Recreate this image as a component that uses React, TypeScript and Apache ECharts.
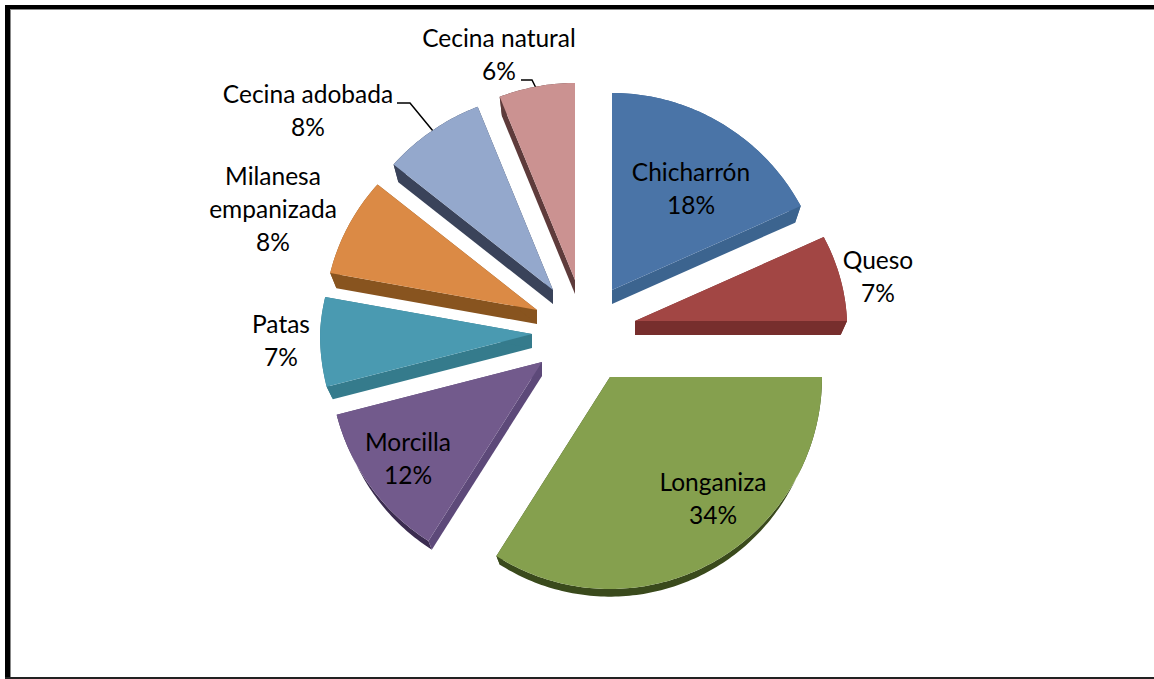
import React, { useEffect, useRef } from "react";
import * as echarts from "echarts";

const categories = ["Chicharrón", "Queso", "Longaniza", "Morcilla", "Patas", "Milanesa\nempanizada", "Cecina adobada", "Cecina natural"];
const values = [18, 7, 34, 12, 7, 8, 8, 6];

const topColors = ["#4A74A7", "#A24644", "#85A04E", "#725A8C", "#4A9AB1", "#DB8A45", "#94A8CC", "#CB9291"];
const cutColors = ["#3C648F", "#772E2D", "#3A4A1C", "#5D4979", "#357B8C", "#88541F", "#3A435A", "#5E3B3B"];
const rimColors = ["#3C648F", "#772E2D", "#3A4A1C", "#3B2C50", "#357B8C", "#88541F", "#3A435A", "#5E3B3B"];

// Layout: explode offset from the pie centre, perspective radii, label centres.
const pieCentre = [585, 335];
const explodeX = [27, 50, 25, -43, -53, -48, -32, -10];
const explodeY = [-45, -14, 42, 27, -1, -25, -45, -55];
const radiusX = 212;
const radiusXBackLoss = 8;
const radiusYBack = 197;
const radiusYFront = 212;
const labelX = [691, 878, 713, 408, 281, 273, 308, 499];
const labelY = [188, 276, 498, 458, 340, 208, 110, 54];
const leaderAdobada = [[397, 103], [410, 103], [433, 131]];
const leaderNatural = [[521, 80], [532, 80], [537, 90]];

const DEPTH = 14;
const SHRINK = 0.97;
const total = values.reduce((a, b) => a + b, 0);

function renderSlice(params: any, api: any) {
  const i = params.dataIndex;
  const before = values.slice(0, i).reduce((a, b) => a + b, 0);
  const start = (before / total) * 360;
  const end = start + (api.value(0) / total) * 360;
  const ax = pieCentre[0] + explodeX[i];
  const ay = pieCentre[1] + explodeY[i];
  const rim: number[][] = [];
  const steps = Math.ceil(end - start);
  for (let s = 0; s <= steps; s++) {
    const t = ((start + ((end - start) * s) / steps) * Math.PI) / 180;
    const c = Math.cos(t);
    const rx = radiusX - radiusXBackLoss * Math.max(0, c);
    rim.push([ax + rx * Math.sin(t), ay - (c > 0 ? radiusYBack : radiusYFront) * c]);
  }
  const low = (p: number[]) => [ax + (p[0] - ax) * SHRINK, ay + (p[1] - ay) * SHRINK + DEPTH];
  const lowRim = rim.map(low);
  const apex = [ax, ay];
  const lowApex = [ax, ay + DEPTH];
  const first = rim[0];
  const last = rim[rim.length - 1];
  const poly = (points: number[][], fill: string) => ({ type: "polygon", shape: { points }, style: { fill } });
  const children: any[] = [
    poly([...rim, ...lowRim.slice().reverse()], rimColors[i]),
    poly([apex, first, low(first), lowApex], cutColors[i]),
    poly([apex, last, low(last), lowApex], cutColors[i]),
    poly([apex, ...rim], topColors[i]),
    {
      type: "text",
      style: {
        text: `${categories[i]}\n${Math.round((values[i] / total) * 100)}%`,
        x: labelX[i],
        y: labelY[i],
        align: "center",
        verticalAlign: "middle",
        fill: "#000",
        font: "24.5px Lato",
        lineHeight: 33,
      },
    },
  ];
  return { type: "group", children };
}

export default function App() {
  const ref = useRef<HTMLDivElement>(null);
  useEffect(() => {
    document.body.style.margin = "0";
    const chart = echarts.init(ref.current!, undefined, { renderer: "svg" });
    chart.setOption({
      animation: false,
      backgroundColor: "#fff",
      series: [
        {
          type: "custom",
          coordinateSystem: "none",
          data: values.map((v) => [v]),
          renderItem: renderSlice,
          silent: true,
          clip: false,
        },
      ],
      graphic: [
        { type: "rect", shape: { x: 5, y: 5, width: 1149, height: 4 }, style: { fill: "#000" } },
        { type: "rect", shape: { x: 10, y: 9, width: 1144, height: 1 }, style: { fill: "#888" } },
        { type: "rect", shape: { x: 5, y: 5, width: 5, height: 674 }, style: { fill: "#000" } },
        { type: "rect", shape: { x: 10, y: 9, width: 1, height: 668 }, style: { fill: "#888" } },
        { type: "rect", shape: { x: 5, y: 677, width: 1149, height: 2 }, style: { fill: "#222" } },
        { type: "polyline", shape: { points: leaderAdobada }, style: { stroke: "#000", lineWidth: 1.5, fill: "none" } },
        { type: "polyline", shape: { points: leaderNatural }, style: { stroke: "#000", lineWidth: 1.5, fill: "none" } },
      ],
    });
    return () => chart.dispose();
  }, []);
  return <div ref={ref} style={{ width: 1154, height: 679 }} />;
}
